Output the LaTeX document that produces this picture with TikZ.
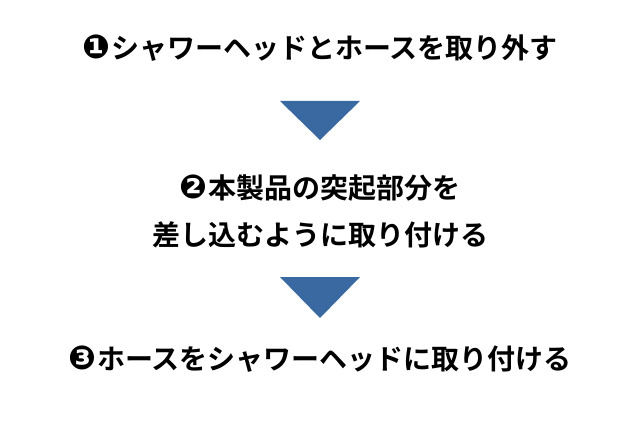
\documentclass[tikz,border=0pt]{standalone}
\usepackage{fontspec}
\newfontfamily\jpfont{Noto Sans CJK JP Bold}
\newfontfamily\numfont{DejaVu Sans Bold}
\definecolor{triblue}{HTML}{3A68A0}
\tikzset{
  steptext/.style={font=\jpfont\fontsize{28}{34}\selectfont, text=black, inner sep=0pt, anchor=center, align=center},
  arrowtri/.style={fill=triblue, draw=none}
}
\newcommand{\circnum}[1]{{\numfont\fontsize{33}{33}\selectfont #1}\hspace{1pt}}
\begin{document}
\begin{tikzpicture}[x=1pt,y=1pt]
\useasboundingbox[fill=white] (0,0) rectangle (640,440);
\node[steptext] (s1) at (320,392) {\circnum{❶}シャワーヘッドとホースを取り外す};
\node[steptext] (s2a) at (320,252) {\circnum{❷}本製品の突起部分を};
\node[steptext] (s2b) at (320,205) {差し込むように取り付ける};
\node[steptext] (s3) at (320,81) {\circnum{❸}ホースをシャワーヘッドに取り付ける};
\coordinate (t1l) at (280,339);
\coordinate (t1r) at (360,339);
\coordinate (t1a) at (320,300);
\coordinate (t2l) at (280,163);
\coordinate (t2r) at (360,163);
\coordinate (t2a) at (320,122);
\fill[arrowtri] (t1l) -- (t1r) -- (t1a) -- cycle;
\fill[arrowtri] (t2l) -- (t2r) -- (t2a) -- cycle;
\end{tikzpicture}
\end{document}
